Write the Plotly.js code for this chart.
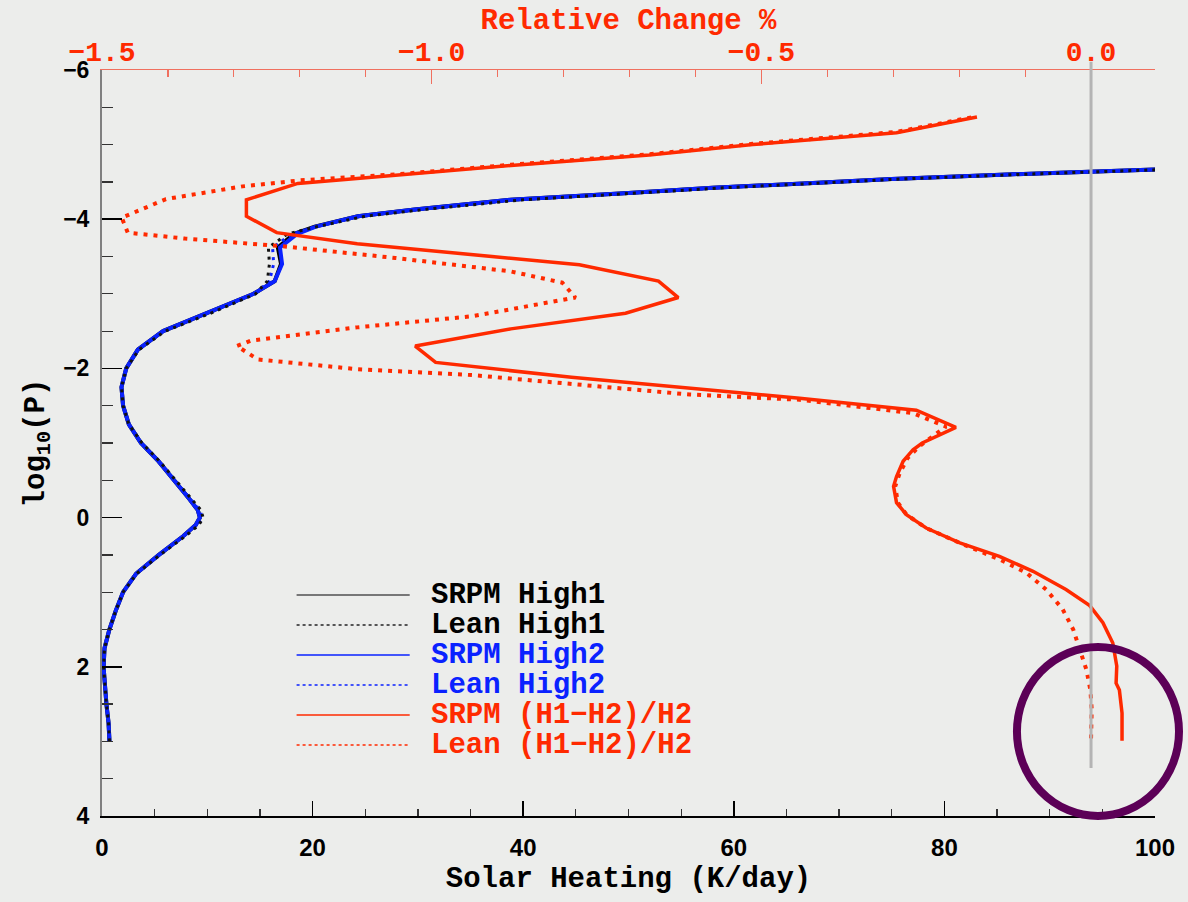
<!DOCTYPE html>
<html>
<head>
<meta charset="utf-8">
<script src="https://cdn.plot.ly/plotly-3.0.1.min.js"></script>
<style>
  html, body { margin: 0; padding: 0; background: #ecedeb; }
  #chart { width: 1188px; height: 902px; }
</style>
</head>
<body>
<div id="chart"></div>
<script>
// ---------- data ----------
// log10(P) levels for the heating profiles
const logPHeat = [3.0, 2.75, 2.5, 2.25, 2.0, 1.75, 1.5, 1.25, 1.0, 0.75, 0.5, 0.25, 0.1, 0.0, -0.1, -0.25, -0.5, -0.75, -1.0, -1.25, -1.5, -1.75, -2.0, -2.25, -2.5, -2.75, -3.0, -3.17, -3.4, -3.62, -3.8, -3.9, -4.04, -4.13, -4.26, -4.35, -4.42, -4.49, -4.54, -4.6, -4.66, -4.72];

// Solar heating (K/day)
const srpmHigh1 = [0.71, 0.62, 0.42, 0.25, 0.15, 0.24, 0.7, 1.3, 2.0, 3.25, 5.4, 7.7, 8.9, 9.3, 9.1, 8.3, 6.9, 5.4, 3.7, 2.55, 2.0, 1.85, 2.3, 3.4, 5.8, 10.2, 14.4, 16.4, 17.0, 16.7, 18.2, 20.2, 24.3, 29.7, 38.8, 50, 58, 68, 75, 86, 100, 112];
const leanHigh1 = [0.71, 0.62, 0.42, 0.25, 0.15, 0.24, 0.7, 1.3, 2.0, 3.3, 5.5, 7.9, 9.2, 9.6, 9.4, 8.5, 7.0, 5.5, 3.8, 2.55, 2.0, 1.85, 2.3, 3.5, 6.0, 10.5, 14.6, 15.7, 15.9, 15.8, 17.6, 20.4, 25.0, 30.6, 40.0, 51, 59, 69, 76, 87, 100, 112];
const srpmHigh2 = [0.71, 0.62, 0.42, 0.25, 0.15, 0.24, 0.7, 1.3, 2.0, 3.25, 5.4, 7.7, 8.9, 9.3, 9.1, 8.3, 6.9, 5.4, 3.7, 2.55, 2.0, 1.85, 2.3, 3.4, 5.8, 10.2, 14.4, 16.4, 17.1, 16.9, 18.5, 20.3, 24.3, 29.7, 38.8, 50, 58, 68, 75, 86, 100, 112];
const leanHigh2 = [0.71, 0.62, 0.42, 0.25, 0.15, 0.24, 0.7, 1.3, 2.0, 3.3, 5.5, 7.8, 9.1, 9.5, 9.3, 8.4, 6.95, 5.45, 3.75, 2.55, 2.0, 1.85, 2.3, 3.45, 5.9, 10.3, 14.5, 15.9, 16.3, 16.2, 18.0, 20.3, 24.6, 30.2, 39.4, 50.5, 58.5, 68.5, 75.5, 86.5, 100, 112];

// Relative change % (H1-H2)/H2
const logPSrpmRel = [2.99, 2.62, 2.31, 2.22, 1.99, 1.68, 1.41, 1.18, 0.965, 0.72, 0.52, 0.34, 0.14, -0.04, -0.2, -0.42, -0.55, -0.755, -0.91, -1.0, -1.21, -1.44, -1.6, -1.74, -1.88, -2.08, -2.30, -2.53, -2.74, -2.95, -3.17, -3.39, -3.58, -3.67, -3.82, -4.04, -4.26, -4.48, -4.59, -4.72, -4.86, -5.0, -5.16, -5.37];
const srpmRel = [0.047, 0.047, 0.043, 0.038, 0.039, 0.033, 0.018, -0.002, -0.038, -0.088, -0.139, -0.199, -0.25, -0.28, -0.295, -0.2995, -0.295, -0.285, -0.27, -0.256, -0.205, -0.265, -0.442, -0.609, -0.788, -0.994, -1.025, -0.88, -0.706, -0.626, -0.656, -0.776, -0.997, -1.113, -1.235, -1.281, -1.281, -1.203, -1.055, -0.88, -0.67, -0.513, -0.295, -0.173];

const logPLeanRel = [2.96, 2.57, 2.31, 2.04, 1.77, 1.50, 1.23, 0.965, 0.74, 0.56, 0.34, 0.14, -0.04, -0.2, -0.42, -0.6, -0.8, -0.96, -1.22, -1.40, -1.58, -1.65, -1.91, -1.99, -2.12, -2.30, -2.37, -2.55, -2.70, -2.95, -3.15, -3.30, -3.48, -3.64, -3.74, -3.82, -4.02, -4.27, -4.44, -4.52, -4.60, -4.73, -4.87, -5.01, -5.17, -5.38];
const leanRel = [0.0, 0.001, -0.001, -0.007, -0.017, -0.027, -0.043, -0.068, -0.098, -0.139, -0.199, -0.25, -0.28, -0.293, -0.297, -0.29, -0.278, -0.26, -0.22, -0.27, -0.442, -0.609, -0.938, -1.113, -1.2635, -1.2955, -1.275, -1.113, -0.938, -0.782, -0.802, -0.88, -1.055, -1.229, -1.374, -1.461, -1.47, -1.403, -1.287, -1.2, -1.055, -0.88, -0.67, -0.513, -0.295, -0.173];

const seriesNames = ["SRPM High1", "Lean High1", "SRPM High2", "Lean High2", "SRPM (H1\u2212H2)/H2", "Lean (H1\u2212H2)/H2"];
const bottomTicks = [0, 20, 40, 60, 80, 100];
const topTicks = [-1.5, -1.0, -0.5, 0.0];
const topMinorTicks = [-1.4, -1.3, -1.2, -1.1, -0.9, -0.8, -0.7, -0.6, -0.4, -0.3, -0.2, -0.1];
const leftTicks = [-6, -4, -2, 0, 2, 4];

// ---------- style ----------
const BLACK = "#000000", BLUE = "#0a22ff", RED = "#ff2a00", PURPLE = "#5c0057";
const MONO = "Liberation Mono, Courier New, monospace";
const SANS = "Liberation Sans, Arial, sans-serif";

const traces = [
  {x: srpmHigh1, y: logPHeat, name: seriesNames[0], xaxis: "x", yaxis: "y", mode: "lines",
   line: {color: BLACK, width: 4}},
  {x: srpmHigh2, y: logPHeat, name: seriesNames[2], xaxis: "x", yaxis: "y", mode: "lines",
   line: {color: BLUE, width: 4}},
  {x: leanHigh2, y: logPHeat, name: seriesNames[3], xaxis: "x", yaxis: "y", mode: "lines",
   line: {color: BLUE, width: 3, dash: "3px,5px"}},
  {x: leanHigh1, y: logPHeat, name: seriesNames[1], xaxis: "x", yaxis: "y", mode: "lines",
   line: {color: "#111111", width: 3, dash: "3px,5px"}},
  {x: srpmRel, y: logPSrpmRel, name: seriesNames[4], xaxis: "x2", yaxis: "y", mode: "lines",
   line: {color: RED, width: 3.5}},
  {x: leanRel, y: logPLeanRel, name: seriesNames[5], xaxis: "x2", yaxis: "y", mode: "lines",
   line: {color: RED, width: 4, dash: "4px,6px"}}
];

// manual legend (long sample lines as in the original)
const legendRows = [
  {name: seriesNames[0], color: BLACK, line: "#777777", dash: "solid", w: 2},
  {name: seriesNames[1], color: BLACK, line: "#555555", dash: "dot", w: 2},
  {name: seriesNames[2], color: BLUE, line: BLUE, dash: "solid", w: 1.5},
  {name: seriesNames[3], color: BLUE, line: BLUE, dash: "dot", w: 1.5},
  {name: seriesNames[4], color: RED, line: RED, dash: "solid", w: 1.5},
  {name: seriesNames[5], color: RED, line: RED, dash: "dot", w: 1.5}
];
const legY0 = 0.2962, legDY = 0.0402;
const shapes = [];
const annotations = [];
legendRows.forEach((r, i) => {
  const yy = legY0 - i * legDY;
  shapes.push({type: "line", xref: "paper", yref: "paper", x0: 0.1848, x1: 0.2922, y0: yy, y1: yy,
               line: {color: r.line, width: r.w, dash: r.dash}});
  annotations.push({xref: "paper", yref: "paper", x: 0.3111, y: yy, xanchor: "left", yanchor: "middle",
                    showarrow: false, height: 30, valign: "middle", borderpad: 0,
                    text: r.name, font: {family: MONO, size: 29, color: r.color, weight: "bold"}});
});
// zero reference line of the relative-change axis
shapes.push({type: "line", xref: "x2", yref: "paper", x0: 0, x1: 0, y0: 0.0643, y1: 1.011,
             line: {color: "#b4b4b4", width: 3}, layer: "above"});
// highlight circle
shapes.push({type: "circle", xref: "paper", yref: "paper", x0: 0.8689, x1: 1.0228, y0: 0.0, y1: 0.2265,
             line: {color: PURPLE, width: 8}, layer: "above"});

const layout = {
  width: 1188, height: 902,
  margin: {l: 102, r: 33, t: 70, b: 86, pad: 0},
  paper_bgcolor: "#ecedeb", plot_bgcolor: "#ecedeb",
  showlegend: false,
  xaxis: {
    range: [0, 100], tickvals: bottomTicks, ticks: "inside", ticklen: 15, tickwidth: 1.5, tickcolor: BLACK,
    minor: {dtick: 5, tick0: 0, ticks: "inside", ticklen: 7, tickwidth: 1.2, tickcolor: "#333", showgrid: false},
    showline: true, linecolor: BLACK, linewidth: 1.5, showgrid: false, zeroline: false,
    tickfont: {family: SANS, size: 24, color: BLACK, weight: "bold"}, ticklabelstandoff: 10,
    title: {text: "Solar Heating (K/day)", font: {family: MONO, size: 29, color: BLACK, weight: "bold"}, standoff: 6}
  },
  xaxis2: {
    overlaying: "x", side: "top", anchor: "y", range: [-1.5, 0.097], tickvals: topTicks, tickformat: ".1f",
    ticks: "inside", ticklen: 14, tickwidth: 1.5, tickcolor: "#f0705f",
    minor: {tickmode: "array", tickvals: topMinorTicks, ticks: "inside", ticklen: 7, tickwidth: 1.2, tickcolor: "#f0705f", showgrid: false},
    showline: true, linecolor: "#f0705f", linewidth: 1.5, showgrid: false, zeroline: false,
    tickfont: {family: MONO, size: 28, color: RED, weight: "bold"}, ticklabelstandoff: -4,
    title: {text: "Relative Change %", font: {family: MONO, size: 29, color: RED, weight: "bold"}, standoff: 0}
  },
  yaxis: {
    range: [4, -6], tickvals: leftTicks, ticks: "inside", ticklen: 20, tickwidth: 1.5, tickcolor: BLACK,
    minor: {dtick: 0.5, tick0: 0, ticks: "inside", ticklen: 11, tickwidth: 1.2, tickcolor: "#333", showgrid: false},
    showline: true, linecolor: "#808080", linewidth: 2, showgrid: false, zeroline: false,
    tickfont: {family: SANS, size: 23, color: BLACK, weight: "bold"}, ticklabelstandoff: 6,
    title: {text: "log<sub>10</sub>(P)", font: {family: MONO, size: 29, color: BLACK, weight: "bold"}, standoff: 10}
  },
  yaxis2: {
    overlaying: "y", side: "right", anchor: "x", range: [4, -6], tickvals: leftTicks, showticklabels: false,
    ticks: "inside", ticklen: 20, tickwidth: 1.5, tickcolor: BLACK,
    minor: {dtick: 0.5, tick0: 0, ticks: "inside", ticklen: 9, tickwidth: 1.2, tickcolor: "#333", showgrid: false},
    showline: true, linecolor: BLACK, linewidth: 1.5, showgrid: false, zeroline: false
  },
  shapes: shapes,
  annotations: annotations
};

Plotly.newPlot("chart", traces, layout, {staticPlot: true, displayModeBar: false});
</script>
</body>
</html>
